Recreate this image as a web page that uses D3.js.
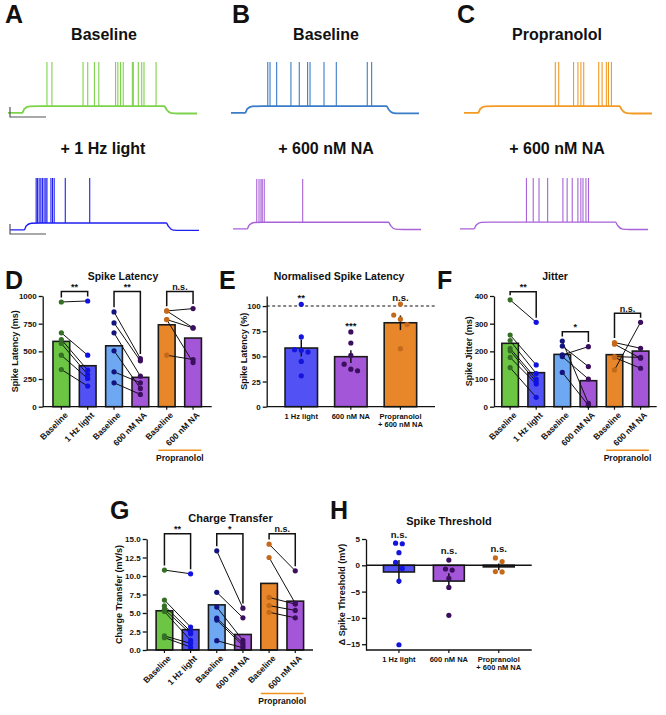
<!DOCTYPE html>
<html>
<head>
<meta charset="utf-8">
<script src="https://cdn.jsdelivr.net/npm/d3@7"></script>
<style>
body { margin: 0; background: #fff; }
text { font-family: "Liberation Sans", Arial, sans-serif; font-weight: bold; fill: #111; }
</style>
</head>
<body>
<div id="chart"></div>
<script>
// ---- example traces: current step protocol (ms) and spike times (ms) ----
const stepOn = 100, stepOff = 1100, traceEnd = 1330;
const spikesA1 = [274, 309, 528, 561, 608, 639, 757, 773, 792, 811, 875, 882, 917, 941, 957, 1042];
const spikesA2 = [184, 193, 205, 217, 228, 240, 252, 260, 288, 299, 311, 389, 561];
const spikesB1 = [260, 276, 323, 424, 483, 542, 559, 658, 745, 964, 995];
const spikesB2 = [168, 184, 198, 207, 221, 493];
const spikesC1 = [646, 670, 775, 806, 827, 847, 953, 977, 1007, 1022, 1043];
const spikesC2 = [470, 518, 559, 620, 728, 758, 794, 834, 855, 870, 891, 909];

// ---- paired panels D, F, G ----
const pairedCats = ["Baseline", "1 Hz light", "Baseline", "600 nM NA", "Baseline", "600 nM NA"];

const latencyMeans = [590, 370, 550, 265, 740, 620];
const latencyPairs = [
  [[946, 955], [667, 465], [607, 330], [571, 291], [465, 255], [336, 186]],
  [[856, 435], [757, 414], [667, 276], [505, 165], [315, 216], [216, 111]],
  [[865, 886], [865, 712], [787, 712], [787, 399], [465, 426]]
];
const latencySig = ["**", "**", "n.s."];
const latencyBracket = [1040, 1040, 1040];

const jitterMeans = [229, 123, 189, 94, 188, 201];
const jitterPairs = [
  [[386, 305], [259, 151], [239, 120], [211, 100], [202, 90], [178, 82], [141, 34]],
  [[237, 12], [219, 145], [187, 217], [181, 100], [124, 5]],
  [[232, 211], [226, 175], [181, 178], [178, 139], [133, 305]]
];
const jitterSig = ["**", "*", "n.s."];
const jitterBracket = [415, 271, 338];

const chargeMeans = [5.3, 2.75, 6.1, 2.1, 9.0, 6.6];
const chargePairs = [
  [[10.8, 10.3], [6.75, 3.1], [5.95, 2.5], [5.5, 2.2], [5.2, 1.3], [1.9, 0.9], [1.67, 0.4]],
  [[13.4, 5.65], [7.8, 4.35], [5.8, 1.3], [4.3, 0.9], [4.05, 0.6], [1.26, 0.3]],
  [[14.3, 10.7], [12.5, 6.3], [7.1, 6.2], [6.0, 5.35], [5.1, 4.35]]
];
const chargeSig = ["**", "*", "n.s."];
const chargeBracket = [15.7, 15.7, 15.7];

// ---- normalised panels E, H ----
const normCats = [["1 Hz light"], ["600 nM NA"], ["Propranolol", "+ 600 nM NA"]];
const normMeans = [58.3, 49.7, 83.4];
const normSem = [8.4, 6.3, 7.3];
const normPoints = [[101.7, 69.3, 56.7, 56, 54.3, 45, 30.7], [74.3, 63.3, 51, 42.3, 37.3, 35.7], [102, 91, 87, 81.6, 57.7]];
const normSig = ["**", "***", "n.s."];

const threshMeans = [-1.27, -3.0, -0.3];
const threshSem = [2.3, 1.5, 0.65];
const threshPoints = [[4.2, 4.1, 2.4, 0.55, -0.6, -3.0, -15.1], [1.0, -0.7, -0.9, -2.5, -4.2, -9.5], [1.4, 0.7, -1.2, -1.25]];
const threshSig = ["n.s.", "n.s.", "n.s."];

// colours
const barColors = ["#6cc644", "#5252f4", "#6ea8f2", "#a456d8", "#e8862a", "#a456d8"];
const dotColors = ["#356f25", "#1212e0", "#14147e", "#3b0f5e", "#c4691c", "#3b0f5e"];
const normBar = ["#5252f4", "#a456d8", "#e8862a"];
const normDot = ["#1414dc", "#3b0f5e", "#c46a1c"];

const svg = d3.select("#chart").append("svg")
  .attr("width", 666).attr("height", 715)
  .style("background", "#fff");

const R = 2.6;

function label(t, x, y, size, anchor) {
  return svg.append("text").attr("x", x).attr("y", y).attr("font-size", size)
    .attr("text-anchor", anchor || "start").text(t);
}

// ---------------- traces ----------------
function trace(spikes, xr, yr, color, w) {
  const x = d3.scaleLinear().domain([0, traceEnd]).range(xr);
  const y = d3.scaleLinear().domain([-72, 20]).range(yr);
  const pts = [[0, -70], [stepOn, -70], [stepOn + 15, -63], [stepOn + 50, -58.5], [stepOn + 120, -58],
    [stepOff, -58], [stepOff + 15, -64], [stepOff + 50, -70.5], [stepOff + 100, -71], [traceEnd, -71]];
  svg.append("path").datum(pts)
    .attr("d", d3.line().x(d => x(d[0])).y(d => y(d[1])).curve(d3.curveMonotoneX))
    .attr("fill", "none").attr("stroke", color).attr("stroke-width", w);
  svg.append("g").selectAll("line").data(spikes).join("line")
    .attr("x1", d => x(d)).attr("x2", d => x(d))
    .attr("y1", y(-58)).attr("y2", y(20))
    .attr("stroke", color).attr("stroke-width", 1.1);
}

trace(spikesA1, [8, 197], [114, 62], "#7cd34a", 1.9);
trace(spikesB1, [231, 419], [114, 62], "#3a7cc8", 1.7);
trace(spikesC1, [464, 652], [114, 62], "#f39a25", 1.9);
trace(spikesA2, [10, 199], [231, 178], "#1f1ff2", 1.4);
trace(spikesB2, [233, 421], [230, 179], "#a862d8", 1.4);
trace(spikesC2, [460, 648], [230, 178], "#a862d8", 1.4);

// scale bars
[[107, 117], [224, 234]].forEach(([a, b]) => {
  svg.append("path").attr("d", `M10,${a}V${b}H46`).attr("fill", "none")
    .attr("stroke", "#555").attr("stroke-width", 1.2);
});

label("A", 5, 23, 25); label("B", 232, 23, 25); label("C", 457, 23, 25);
label("Baseline", 104, 40, 16, "middle");
label("Baseline", 326, 40, 16, "middle");
label("Propranolol", 557, 40, 16, "middle");
label("+ 1 Hz light", 103, 154, 16, "middle");
label("+ 600 nM NA", 326, 154, 16, "middle");
label("+ 600 nM NA", 557, 154, 16, "middle");

// ---------------- shared helpers ----------------
function yAxis(y, x0, ticks, fmt) {
  const g = svg.append("g").attr("transform", `translate(${x0},0)`)
    .call(d3.axisLeft(y).tickValues(ticks).tickFormat(fmt).tickSize(4).tickSizeOuter(0).tickPadding(2));
  g.attr("font-size", 8).attr("color", "#111");
  g.selectAll("path,line").attr("stroke-width", 1.3);
  return g;
}

function bracket(xa, xb, yTop, ya, yb, txt) {
  svg.append("path").attr("d", `M${xa},${ya}V${yTop}H${xb}V${yb}`)
    .attr("fill", "none").attr("stroke", "#111").attr("stroke-width", 1.5);
  label(txt, (xa + xb) / 2, yTop - 1.5, 9, "middle");
}

function yTitle(t, x, y) {
  svg.append("text").attr("transform", `translate(${x},${y}) rotate(-90)`)
    .attr("text-anchor", "middle").attr("font-size", 9).text(t);
}

// ---------------- paired bar panel ----------------
function pairedPanel(o) {
  const x = d3.scaleBand().domain(d3.range(6)).range([o.x0, o.x1]).paddingInner(0.365).paddingOuter(o.po);
  const y = d3.scaleLinear().domain([0, o.max]).range([o.yb, o.yt]);
  const cx = i => x(i) + x.bandwidth() / 2;

  svg.append("g").selectAll("rect").data(o.means).join("rect")
    .attr("x", (d, i) => x(i)).attr("width", x.bandwidth())
    .attr("y", d => y(d)).attr("height", d => y(0) - y(d))
    .attr("fill", (d, i) => barColors[i]).attr("stroke", "#1a1a1a").attr("stroke-width", 1.6);

  o.pairs.forEach((grp, k) => {
    const a = 2 * k, b = 2 * k + 1;
    const g = svg.append("g");
    g.selectAll("line").data(grp).join("line")
      .attr("x1", cx(a)).attr("x2", cx(b))
      .attr("y1", d => y(d[0])).attr("y2", d => y(d[1]))
      .attr("stroke", "#111").attr("stroke-width", 1);
    g.selectAll(".pa").data(grp).join("circle").attr("class", "pa")
      .attr("cx", cx(a)).attr("cy", d => y(d[0])).attr("r", R).attr("fill", dotColors[a]);
    g.selectAll(".pb").data(grp).join("circle").attr("class", "pb")
      .attr("cx", cx(b)).attr("cy", d => y(d[1])).attr("r", R).attr("fill", dotColors[b]);
    const ma = d3.max(grp, d => d[0]), mb = d3.max(grp, d => d[1]);
    bracket(cx(a), cx(b), y(o.bracket[k]), y(ma) - R - 2, y(mb) - R - 2, o.sig[k]);
  });

  yAxis(y, o.x0, o.ticks, o.fmt);
  svg.append("line").attr("x1", o.x0).attr("x2", o.x1).attr("y1", y(0)).attr("y2", y(0))
    .attr("stroke", "#111").attr("stroke-width", 1.3);
  svg.append("g").selectAll("line").data(d3.range(6)).join("line")
    .attr("x1", cx).attr("x2", cx).attr("y1", y(0)).attr("y2", y(0) + 3)
    .attr("stroke", "#111").attr("stroke-width", 1.2);

  svg.append("g").selectAll("text").data(pairedCats).join("text")
    .attr("transform", (d, i) => `translate(${cx(i) + 7},${y(0) + 9}) rotate(-45)`)
    .attr("text-anchor", "end").attr("font-size", 8.5).text(d => d);

  const l = x(4), r = x(5) + x.bandwidth();
  svg.append("line").attr("x1", l).attr("x2", r).attr("y1", o.yb + 43.5).attr("y2", o.yb + 43.5)
    .attr("stroke", "#f0901e").attr("stroke-width", 1.6);
  label("Propranolol", (l + r) / 2, o.yb + 54, 8.5, "middle");

  yTitle(o.ylabel, o.ylx, (o.yt + o.yb) / 2);
  label(o.title, o.tx, o.ty, o.tsize, "middle");
}

pairedPanel({ x0: 42.7, x1: 211.7, po: 0.39, yt: 296, yb: 406.7, max: 1000,
  ticks: [0, 250, 500, 750, 1000], fmt: d3.format("d"), means: latencyMeans, pairs: latencyPairs,
  sig: latencySig, bracket: latencyBracket, ylabel: "Spike Latency (ms)", ylx: 17.5,
  title: "Spike Latency", tx: 123, ty: 280, tsize: 10.5 });

pairedPanel({ x0: 494, x1: 656.7, po: 0.3, yt: 296, yb: 406.7, max: 400,
  ticks: [0, 100, 200, 300, 400], fmt: d3.format("d"), means: jitterMeans, pairs: jitterPairs,
  sig: jitterSig, bracket: jitterBracket, ylabel: "Spike Jitter (ms)", ylx: 471.5,
  title: "Jitter", tx: 555, ty: 280, tsize: 10.5 });

pairedPanel({ x0: 146.7, x1: 313, po: 0.36, yt: 539, yb: 650, max: 15,
  ticks: [0, 2.5, 5, 7.5, 10, 12.5, 15], fmt: d3.format(".1f"), means: chargeMeans, pairs: chargePairs,
  sig: chargeSig, bracket: chargeBracket, ylabel: "Charge Transfer (mV/s)", ylx: 121.5,
  title: "Charge Transfer", tx: 230.5, ty: 522, tsize: 11 });

// ---------------- scatter bar panel (E, H) ----------------
function dodge(vals, y, thresh, d) {
  const idx = d3.range(vals.length).sort((a, b) => vals[b] - vals[a]);
  const off = new Array(vals.length).fill(0);
  let row = [idx[0]];
  const flush = () => row.forEach((k, i) => { off[k] = (i - (row.length - 1) / 2) * d; });
  for (let i = 1; i < idx.length; i++) {
    if (Math.abs(y(vals[idx[i]]) - y(vals[row[row.length - 1]])) < thresh) row.push(idx[i]);
    else { flush(); row = [idx[i]]; }
  }
  flush();
  return off;
}

function scatterPanel(o) {
  const x = d3.scaleBand().domain(d3.range(3)).range([o.x0, o.x1]).paddingInner(o.pi).paddingOuter(o.po);
  const y = d3.scaleLinear().domain(o.domain).range([o.yb, o.yt]);
  const cx = i => x(i) + x.bandwidth() / 2;

  if (o.dashed != null) {
    svg.append("line").attr("x1", o.x0).attr("x2", o.x1).attr("y1", y(o.dashed)).attr("y2", y(o.dashed))
      .attr("stroke", "#111").attr("stroke-width", 1.1).attr("stroke-dasharray", "3,2.5");
  }
  svg.append("g").selectAll("rect").data(o.means).join("rect")
    .attr("x", (d, i) => x(i)).attr("width", x.bandwidth())
    .attr("y", d => Math.min(y(d), y(0))).attr("height", d => Math.abs(y(0) - y(d)))
    .attr("fill", (d, i) => normBar[i]).attr("stroke", "#1a1a1a").attr("stroke-width", 1.6);
  svg.append("g").selectAll("line").data(o.means).join("line")
    .attr("x1", (d, i) => cx(i)).attr("x2", (d, i) => cx(i))
    .attr("y1", (d, i) => y(d - o.sem[i])).attr("y2", (d, i) => y(d + o.sem[i]))
    .attr("stroke", "#111").attr("stroke-width", 1.5);

  o.points.forEach((vals, i) => {
    const off = dodge(vals, y, o.thresh, 6.7);
    svg.append("g").selectAll("circle").data(vals).join("circle")
      .attr("cx", (d, j) => cx(i) + off[j]).attr("cy", d => y(d)).attr("r", R).attr("fill", normDot[i]);
    label(o.sig[i], cx(i), y(d3.max(vals)) - R - o.sigGap, 9.5, "middle");
  });

  yAxis(y, o.x0, o.ticks, d3.format("d"));
  svg.append("line").attr("x1", o.x0).attr("x2", o.x1).attr("y1", o.yb).attr("y2", o.yb)
    .attr("stroke", "#111").attr("stroke-width", 1.3);
  svg.append("g").selectAll("line").data(d3.range(3)).join("line")
    .attr("x1", cx).attr("x2", cx).attr("y1", o.yb).attr("y2", o.yb + 3)
    .attr("stroke", "#111").attr("stroke-width", 1.2);
  if (o.zeroLine) {
    svg.append("line").attr("x1", o.x0).attr("x2", o.x1).attr("y1", y(0)).attr("y2", y(0))
      .attr("stroke", "#111").attr("stroke-width", 1.4);
  }
  normCats.forEach((lines, i) => {
    lines.forEach((t, k) => label(t, cx(i), o.yb + 12 + k * 7.8, 7.5, "middle"));
  });
  yTitle(o.ylabel, o.ylx, (o.yt + o.yb) / 2);
  label(o.title, o.tx, o.ty, o.tsize, "middle");
}

scatterPanel({ x0: 266.7, x1: 435, pi: 0.345, po: 0.37, domain: [0, 110], yt: 296, yb: 406.7,
  ticks: [0, 25, 50, 75, 100], means: normMeans, sem: normSem, points: normPoints, sig: normSig,
  thresh: 5.5, sigGap: 0.5, dashed: 100, ylabel: "Spike Latency (%)", ylx: 246.5,
  title: "Normalised Spike Latency", tx: 339, ty: 280, tsize: 10.5 });

scatterPanel({ x0: 366, x1: 531.7, pi: 0.38, po: 0.35, domain: [-16.1, 5], yt: 539, yb: 650,
  ticks: [-15, -10, -5, 0, 5], means: threshMeans, sem: threshSem, points: threshPoints, sig: threshSig,
  thresh: 6.5, sigGap: 3, zeroLine: true, ylabel: "\u0394 Spike Threshold (mV)", ylx: 345,
  title: "Spike Threshold", tx: 449, ty: 525, tsize: 11 });

label("D", 5, 289, 25); label("E", 219, 289, 25); label("F", 437, 289, 25);
label("G", 110, 519, 25); label("H", 330, 519, 25);
</script>
</body>
</html>
